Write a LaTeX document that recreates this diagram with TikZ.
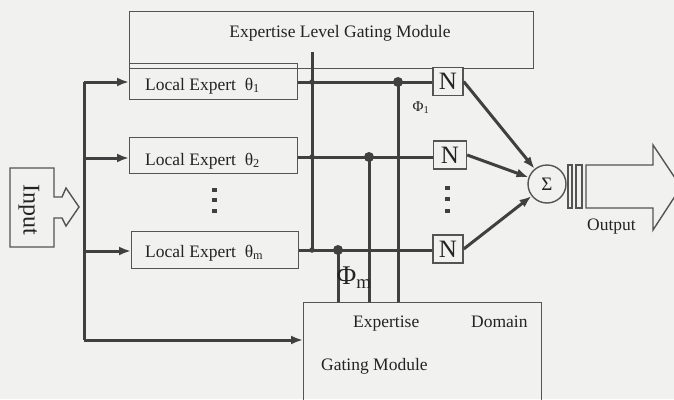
\documentclass[tikz,border=0pt]{standalone}
\usepackage{fontspec}
\setmainfont{Liberation Serif}
\usetikzlibrary{arrows.meta}
\definecolor{paper}{RGB}{241,241,239}
\definecolor{ink}{RGB}{64,64,64}
\definecolor{frame}{RGB}{84,84,84}
\definecolor{txt}{RGB}{35,35,35}
\tikzset{
  box/.style={draw=frame, line width=1.4pt, inner sep=0pt, anchor=north west},
  wire/.style={draw=ink, line width=3pt},
  feed/.style={wire, -{Latex[length=12pt,width=9pt]}},
  lbl/.style={text=txt, inner sep=0pt, font=\fontsize{17.5}{20}\selectfont},
  bigdot/.style={circle, fill=ink, inner sep=0pt, minimum size=10pt},
  smalldot/.style={circle, fill=ink, inner sep=0pt, minimum size=5.5pt},
  vdot/.style={fill=ink, inner sep=0pt, minimum width=5pt, minimum height=4.5pt},
  nbox/.style={draw=frame, line width=1.4pt, fill=paper, inner sep=0pt,
    minimum width=30pt, minimum height=28pt, text=txt,
    font=\fontsize{25}{28}\selectfont},
}
\begin{document}
\begin{tikzpicture}[x=1pt,y=-1pt]
\clip (0,0) rectangle (674,399);
\fill[paper] (0,0) rectangle (674,399);

% upper gating module and local experts
\node[box, minimum width=404pt, minimum height=57pt] (elg) at (129,11) {};
\node[lbl, anchor=base] (elgtxt) at (340,37) {Expertise Level Gating Module};
\node[box, minimum width=168pt, minimum height=36pt] (le1) at (129,63) {};
\node[box, minimum width=168pt, minimum height=36pt] (le2) at (129,137) {};
\node[box, minimum width=167pt, minimum height=37pt] (lem) at (131,231) {};
\node[lbl, anchor=base west] (le1txt) at (145,90) {Local Expert~~θ\textsubscript{1}};
\node[lbl, anchor=base west] (le2txt) at (145,165) {Local Expert~~θ\textsubscript{2}};
\node[lbl, anchor=base west] (lemtxt) at (145,257) {Local Expert~~θ\textsubscript{m}};
\foreach \y/\n in {190/a,200/b,211/c} \node[vdot] (ledot\n) at (214,\y) {};

% lower gating module
\node[box, minimum width=238pt, minimum height=120pt] (gm) at (303,302) {};
\node[lbl, anchor=base west] (gmexp) at (353,327) {Expertise};
\node[lbl, anchor=base west] (gmdom) at (471,327) {Domain};
\node[lbl, anchor=base west] (gmgat) at (321,370) {Gating Module};

% input block arrow
\draw[frame, line width=1.4pt, fill=paper, line join=miter]
  (10,168) -- (54,168) -- (54,197) -- (62,197) -- (66,188) -- (79,207)
  -- (66,226) -- (62,218) -- (54,218) -- (54,247) -- (10,247) -- cycle;
\node[lbl, rotate=-90, font=\fontsize{24}{26}\selectfont] (intxt) at (29,210) {Input};

% input distribution bus
\coordinate (bustop) at (84,82);
\coordinate (busbot) at (84,340);
\draw[wire] (bustop) -- (busbot);
\draw[feed] (bustop) -- (bustop -| le1.west);
\draw[feed] (84,158) -- (le2.west |- 0,158);
\draw[feed] (84,251) -- (lem.west |- 0,251);
\draw[feed] (busbot) -- (busbot -| gm.west);

% normalisation boxes
\node[nbox] (n1) at (448,81.5) {N};
\node[nbox, minimum width=33pt] (n2) at (450,155) {N};
\node[nbox] (nm) at (448,249) {N};
\foreach \y/\n in {188/a,199/b,211/c} \node[vdot] (ndot\n) at (447,\y) {};

% expert outputs to the normalisers
\draw[wire] (le1.east |- 0,82) -- (n1.west |- 0,82);
\draw[wire] (le2.east |- 0,157) -- (n2.west |- 0,157);
\draw[wire] (lem.east |- 0,250) -- (nm.west |- 0,250);

% level gating line
\coordinate (lvtop) at (312,52);
\draw[wire] (lvtop) -- (312,250);
\node[smalldot] (j1) at (312,82) {};
\node[smalldot] (j2) at (312,157) {};
\node[smalldot] (jm) at (312,250) {};

% domain gating taps
\node[bigdot] (d1) at (398,82) {};
\node[bigdot] (d2) at (369,157) {};
\node[bigdot] (dm) at (338,250) {};
\draw[wire] (d1.center) -- (d1 |- gm.north);
\draw[wire] (d2.center) -- (d2 |- gm.north);
\draw[wire] (dm.center) -- (dm |- gm.north);
\node[lbl, font=\fontsize{15}{17}\selectfont] (phi1) at (421,108) {Φ\textsubscript{1}};
\node[lbl, font=\fontsize{27}{30}\selectfont] (phim) at (354,278) {Φ\textsubscript{m}};

% summation
\node[circle, draw=frame, line width=1.4pt, fill=paper, minimum size=38pt,
  inner sep=0pt, text=txt, font=\fontsize{19}{21}\selectfont] (sig) at (547,184) {Σ};
\draw[feed] (n1.east) -- (sig);
\draw[feed] (n2.east) -- (sig);
\draw[feed] (nm.east) -- (sig);

% output block arrow
\draw[frame, line width=1.4pt, fill=paper] (568,165) rectangle (572,208);
\draw[frame, line width=1.4pt, fill=paper] (576,165) rectangle (582,208);
\draw[frame, line width=1.4pt, fill=paper, line join=miter]
  (586,165) -- (653,165) -- (653,145) -- (681,187) -- (653,230)
  -- (653,208) -- (586,208) -- cycle;
\node[lbl, anchor=base west] (outtxt) at (587,230) {Output};
\end{tikzpicture}
\end{document}
